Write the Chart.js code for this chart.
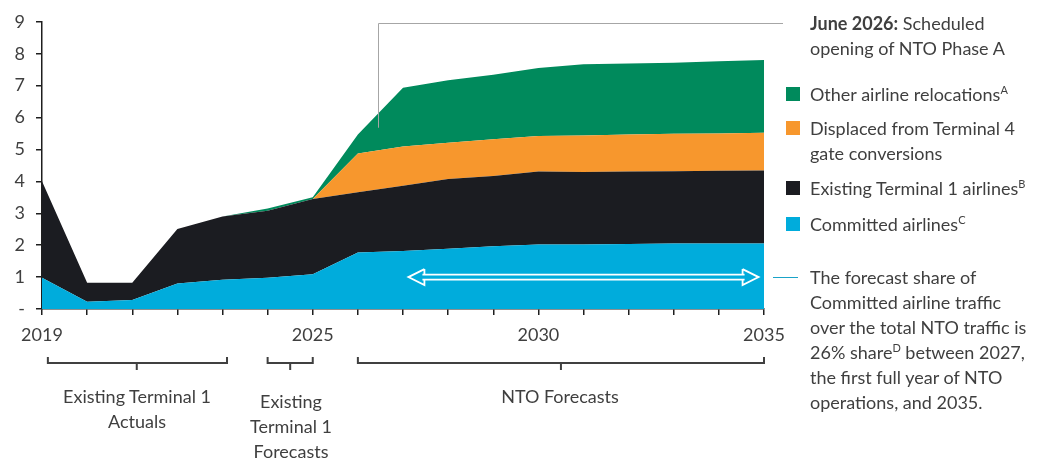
<!DOCTYPE html>
<html>
<head>
<meta charset="utf-8">
<script src="https://cdn.jsdelivr.net/npm/chart.js@4.4.1/dist/chart.umd.min.js"></script>
<style>
  body { margin: 0; background: #fff; }
  #wrap { position: relative; width: 1050px; height: 461px; font-family: Lato, sans-serif; color: #3f3f3f; }
  #chart { position: absolute; left: 0; top: 0; }
  .t { position: absolute; font-size: 18px; line-height: 25px; white-space: nowrap; }
  .c { text-align: center; transform: translateX(-50%); }
  .sw { position: absolute; width: 14px; height: 14px; }
  sup { font-size: 11px; line-height: 0; vertical-align: 7px; }
</style>
</head>
<body>
<div id="wrap">
  <canvas id="chart" width="1050" height="461"></canvas>

  <div class="t" style="left:810px; top:11px;"><b>June 2026:</b> Scheduled<br>opening of NTO Phase A</div>

  <div class="sw" style="left:786px; top:87px; background:#008a5c;"></div>
  <div class="t" style="left:810px; top:82px;">Other airline relocations<sup>A</sup></div>
  <div class="sw" style="left:786px; top:121px; background:#f7972d;"></div>
  <div class="t" style="left:810px; top:116px;">Displaced from Terminal 4<br>gate conversions</div>
  <div class="sw" style="left:786px; top:181px; background:#1b1c21;"></div>
  <div class="t" style="left:810px; top:176px;">Existing Terminal 1 airlines<sup>B</sup></div>
  <div class="sw" style="left:786px; top:217px; background:#00acdc;"></div>
  <div class="t" style="left:810px; top:212px;">Committed airlines<sup>C</sup></div>

  <div class="t" style="left:810px; top:265px;">The forecast share of<br>Committed airline traffic<br>over the total NTO traffic is<br>26% share<sup>D</sup> between 2027,<br>the first full year of NTO<br>operations, and 2035.</div>

  <div class="t c" style="left:137px; top:384px;">Existing Terminal 1<br>Actuals</div>
  <div class="t c" style="left:291px; top:389px;">Existing<br>Terminal 1<br>Forecasts</div>
  <div class="t c" style="left:560px; top:384px;">NTO Forecasts</div>
</div>

<script>
const years = ['2019', '2020', '2021', '2022', '2023', '2024', '2025', '2026', '2027',
  '2028', '2029', '2030', '2031', '2032', '2033', '2034', '2035'];
const shownYears = ['2019', '2025', '2030', '2035'];

const committed = [0.98, 0.23, 0.28, 0.80, 0.92, 0.98, 1.09, 1.77, 1.82, 1.89, 1.97, 2.02, 2.02, 2.04, 2.05, 2.05, 2.05];
const existingT1 = [3.02, 0.59, 0.54, 1.71, 1.98, 2.10, 2.36, 1.89, 2.04, 2.18, 2.20, 2.29, 2.27, 2.27, 2.27, 2.28, 2.29];
const displacedT4 = [0, 0, 0, 0, 0, 0, 0, 1.21, 1.23, 1.14, 1.15, 1.11, 1.15, 1.16, 1.17, 1.17, 1.18];
const otherReloc = [0, 0, 0, 0, 0, 0.07, 0.05, 0.60, 1.84, 1.96, 2.02, 2.13, 2.23, 2.22, 2.23, 2.26, 2.28];

const textColor = '#3f3f3f';
const axisColor = '#1e1e1e';

// x position between category indexes
function xAt(scale, idx) {
  const i = Math.floor(idx);
  const f = idx - i;
  const a = scale.getPixelForValue(i);
  if (f === 0) return a;
  return a + (scale.getPixelForValue(i + 1) - a) * f;
}

const overlays = {
  id: 'overlays',
  afterDraw(chart) {
    const ctx = chart.ctx;
    const x = chart.scales.x, y = chart.scales.y;
    ctx.save();

    // June 2026 marker line
    const mx = Math.round(xAt(x, 7.45)) + 0.5;
    const topY = Math.round(y.getPixelForValue(8.96)) + 0.5;
    ctx.strokeStyle = '#a6a6a6';
    ctx.lineWidth = 1;
    ctx.beginPath();
    ctx.moveTo(mx, y.getPixelForValue(5.68));
    ctx.lineTo(mx, topY);
    ctx.lineTo(783, topY);
    ctx.stroke();

    // share note connector
    const ay = y.getPixelForValue(1.0);
    ctx.strokeStyle = '#1aa3c8';
    ctx.beginPath();
    ctx.moveTo(773, Math.round(ay) + 0.5);
    ctx.lineTo(798, Math.round(ay) + 0.5);
    ctx.stroke();

    // white double arrow across forecast period
    const x1 = xAt(x, 8.12), x2 = xAt(x, 15.88);
    ctx.strokeStyle = '#ffffff';
    ctx.lineWidth = 1.8;
    ctx.beginPath();
    ctx.moveTo(x1 + 14, ay - 2.5); ctx.lineTo(x2 - 14, ay - 2.5);
    ctx.moveTo(x1 + 14, ay + 2.5); ctx.lineTo(x2 - 14, ay + 2.5);
    ctx.stroke();
    ctx.beginPath();
    ctx.moveTo(x1 + 16, ay - 8); ctx.lineTo(x1, ay); ctx.lineTo(x1 + 16, ay + 8);
    ctx.lineTo(x1 + 16, ay + 2.5);
    ctx.moveTo(x1 + 16, ay - 8); ctx.lineTo(x1 + 16, ay - 2.5);
    ctx.moveTo(x2 - 16, ay - 8); ctx.lineTo(x2, ay); ctx.lineTo(x2 - 16, ay + 8);
    ctx.lineTo(x2 - 16, ay + 2.5);
    ctx.moveTo(x2 - 16, ay - 8); ctx.lineTo(x2 - 16, ay - 2.5);
    ctx.stroke();

    // period brackets under the axis
    ctx.strokeStyle = '#404040';
    ctx.lineWidth = 2;
    const bracket = (a, b, mid) => {
      const xa = xAt(x, a), xb = xAt(x, b), xm = xAt(x, mid);
      ctx.beginPath();
      ctx.moveTo(xa, 357); ctx.lineTo(xa, 363); ctx.lineTo(xb, 363); ctx.lineTo(xb, 357);
      ctx.moveTo(xm, 363); ctx.lineTo(xm, 370);
      ctx.stroke();
    };
    bracket(0.13, 4.1, 2.1);
    bracket(5, 6, 5.5);
    bracket(7, 16, 11.5);

    ctx.restore();
  }
};

new Chart(document.getElementById('chart').getContext('2d'), {
  type: 'line',
  data: {
    labels: years,
    datasets: [
      { label: 'Committed airlines', data: committed, backgroundColor: '#00acdc', fill: 'origin' },
      { label: 'Existing Terminal 1 airlines', data: existingT1, backgroundColor: '#1b1c21', fill: '-1' },
      { label: 'Displaced from Terminal 4 gate conversions', data: displacedT4, backgroundColor: '#f7972d', fill: '-1' },
      { label: 'Other airline relocations', data: otherReloc, backgroundColor: '#008a5c', fill: '-1' }
    ]
  },
  options: {
    responsive: false,
    animation: false,
    elements: {
      point: { radius: 0 },
      line: { borderWidth: 0, tension: 0 }
    },
    layout: { padding: { top: 20, right: 286, bottom: 0, left: 0 } },
    plugins: {
      legend: { display: false },
      tooltip: { enabled: false }
    },
    scales: {
      x: {
        offset: false,
        afterFit: s => { s.height = 152; },
        grid: { drawOnChartArea: false, drawTicks: true, tickLength: 6, color: axisColor, lineWidth: 1.5 },
        border: { display: true, color: axisColor, width: 1.5 },
        ticks: {
          autoSkip: false,
          maxRotation: 0,
          padding: 9,
          color: textColor,
          font: { family: 'Lato', size: 18 },
          callback: function (v) {
            const lab = this.getLabelForValue(v);
            return shownYears.includes(lab) ? lab : '';
          }
        }
      },
      y: {
        stacked: true,
        min: 0,
        max: 9,
        afterFit: s => { s.width = 42; },
        grid: { drawOnChartArea: false, drawTicks: true, tickLength: 6, color: axisColor, lineWidth: 1.5 },
        border: { display: true, color: axisColor, width: 1.5 },
        ticks: {
          stepSize: 1,
          padding: 11,
          color: textColor,
          font: { family: 'Lato', size: 18 },
          callback: v => v === 0 ? '-' : v
        }
      }
    }
  },
  plugins: [overlays]
});
</script>
</body>
</html>
